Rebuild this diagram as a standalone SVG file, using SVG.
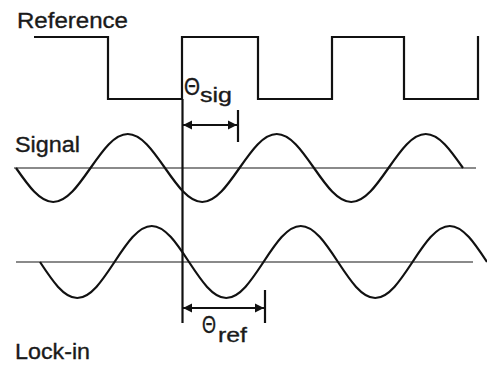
<svg xmlns="http://www.w3.org/2000/svg" width="487" height="365" viewBox="0 0 487 365">
<style>
  .lbl { font-family: "Liberation Sans", Arial, sans-serif; font-size: 22px; fill: #1a1a1a; stroke: #1a1a1a; stroke-width: 0.35; }
  .wave { fill: none; stroke: #111; stroke-width: 2.2; stroke-linejoin: miter; }
  .axis { fill: none; stroke: #8a8a8a; stroke-width: 2.2; }
  .mark { fill: none; stroke: #111; stroke-width: 2.2; }
</style>
<defs>
  <marker id="ah" viewBox="0 0 10 10" refX="10" refY="5" markerWidth="9" markerHeight="10" markerUnits="userSpaceOnUse" orient="auto-start-reverse">
    <path d="M0,0 L10,5 L0,10 Z" fill="#111"/>
  </marker>
</defs>
<rect width="487" height="365" fill="#ffffff"/>

<g id="reference">
  <text class="lbl" x="17" y="28" textLength="111" lengthAdjust="spacingAndGlyphs">Reference</text>
  <polyline class="wave" stroke-width="2.5" points="34,37 108,37 108,99 182,99 182,37 258,37 258,99 332,99 332,37 404,37 404,99 478,99 478,36"/>
</g>

<g id="signal">
  <text class="lbl" x="15" y="152" textLength="65" lengthAdjust="spacingAndGlyphs">Signal</text>
  <line class="axis" x1="14" y1="168" x2="476" y2="168"/>
  <path class="wave" d="M16,168 C28.15,185.42 39.77,202 53.25,202 C66.73,202 78.35,185.42 90.5,168 C102.65,150.58 114.27,134 127.75,134 C141.23,134 152.85,150.58 165,168 C177.15,185.42 188.77,202 202.25,202 C215.73,202 227.35,185.42 239.5,168 C251.65,150.58 263.27,134 276.75,134 C290.23,134 301.85,150.58 314,168 C326.15,185.42 337.77,202 351.25,202 C364.73,202 376.35,185.42 388.5,168 C400.65,150.58 412.27,134 425.75,134 C439.23,134 450.85,150.58 463,168"/>
</g>

<g id="lockin">
  <text class="lbl" x="15" y="359" textLength="75" lengthAdjust="spacingAndGlyphs">Lock-in</text>
  <line class="axis" x1="16" y1="262" x2="473" y2="262"/>
  <path class="wave" d="M40,262 C52.15,280.44 63.77,298 77.25,298 C90.73,298 102.35,280.44 114.5,262 C126.65,243.56 138.27,226 151.75,226 C165.23,226 176.85,243.56 189,262 C201.15,280.44 212.77,298 226.25,298 C239.73,298 251.35,280.44 263.5,262 C275.65,243.56 287.27,226 300.75,226 C314.23,226 325.85,243.56 338,262 C350.15,280.44 361.77,298 375.25,298 C388.73,298 400.35,280.44 412.5,262 C424.65,243.56 436.27,226 449.75,226 C463.23,226 474.85,243.56 487,262"/>
</g>

<g id="theta-sig">
  <text class="lbl" x="184" y="95"><tspan font-size="24" textLength="16" lengthAdjust="spacingAndGlyphs">Θ</tspan><tspan x="200" y="102" font-size="21" textLength="32" lengthAdjust="spacingAndGlyphs">sig</tspan></text>
</g>

<g id="theta-ref">
  <text class="lbl" x="202" y="333"><tspan font-size="24" textLength="14" lengthAdjust="spacingAndGlyphs">Θ</tspan><tspan x="218" y="342" font-size="21" textLength="29" lengthAdjust="spacingAndGlyphs">ref</tspan></text>
</g>

<g id="connectors">
  <line class="mark" x1="182.5" y1="99" x2="182.5" y2="323"/>
  <line class="mark" x1="238" y1="110" x2="238" y2="142"/>
  <line class="mark" x1="265" y1="290" x2="265" y2="323"/>
  <line class="mark" x1="183" y1="125" x2="237" y2="125" marker-start="url(#ah)" marker-end="url(#ah)"/>
  <line class="mark" x1="183" y1="308" x2="264" y2="308" marker-start="url(#ah)" marker-end="url(#ah)"/>
</g>
</svg>
